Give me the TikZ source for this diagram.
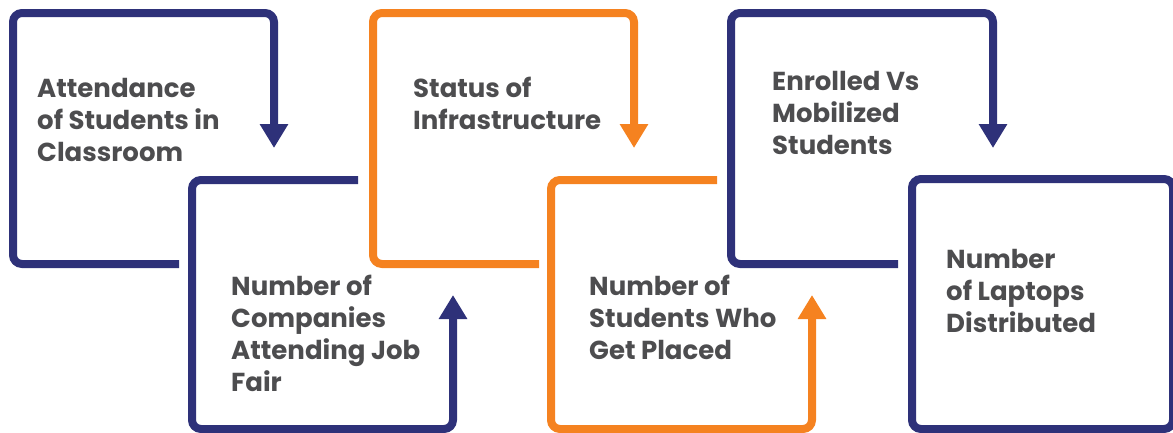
\documentclass[tikz,border=0pt]{standalone}
\usepackage{fontspec}
\setmainfont{Poppins}
\usetikzlibrary{arrows.meta}
\definecolor{navy}{HTML}{2E3179}
\definecolor{orng}{HTML}{F58220}
\definecolor{txt}{HTML}{4D4D4F}
\begin{document}
\begin{tikzpicture}[x=1pt,y=-1pt,
  boxline/.style={line width=8pt, rounded corners=9pt},
  tipend/.style={-{Triangle[width=27pt,length=24pt]}},
  lbl/.style={anchor=base west, align=left, text=txt, inner sep=0pt,
    font=\fontsize{26}{32}\selectfont\bfseries}]
\useasboundingbox (0,0) rectangle (1173,432);
% boxes
\coordinate (a1) at (179,264); \coordinate (a2) at (274,148);
\draw[boxline,tipend,navy] (a1) -- (13,264) -- (13,13) -- (274,13) -- (a2);
\coordinate (b1) at (358,180); \coordinate (b2) at (453,295);
\draw[boxline,tipend,navy] (b1) -- (192,180) -- (192,429) -- (453,429) -- (b2);
\coordinate (c1) at (539,264); \coordinate (c2) at (634,148);
\draw[boxline,tipend,orng] (c1) -- (373,264) -- (373,13) -- (634,13) -- (c2);
\coordinate (d1) at (717,180); \coordinate (d2) at (812,295);
\draw[boxline,tipend,orng] (d1) -- (551,180) -- (551,429) -- (812,429) -- (d2);
\coordinate (e1) at (898,264); \coordinate (e2) at (993,148);
\draw[boxline,tipend,navy] (e1) -- (731,264) -- (731,13) -- (993,13) -- (e2);
\draw[boxline,navy] (912,179) rectangle (1173,429);
% labels (anchored at the baseline of the last line)
\node[lbl] (t1) at (37,161) {Attendance\\of Students in\\Classroom};
\node[lbl] (t2) at (231,391) {Number of\\Companies\\Attending Job\\Fair};
\node[lbl] (t3) at (413,129) {Status of\\Infrastructure};
\node[lbl] (t4) at (589,359) {Number of\\Students Who\\Get Placed};
\node[lbl] (t5) at (772,154) {Enrolled Vs\\Mobilized\\Students};
\node[lbl] (t6) at (946,332) {Number\\of Laptops\\Distributed};
\end{tikzpicture}
\end{document}
